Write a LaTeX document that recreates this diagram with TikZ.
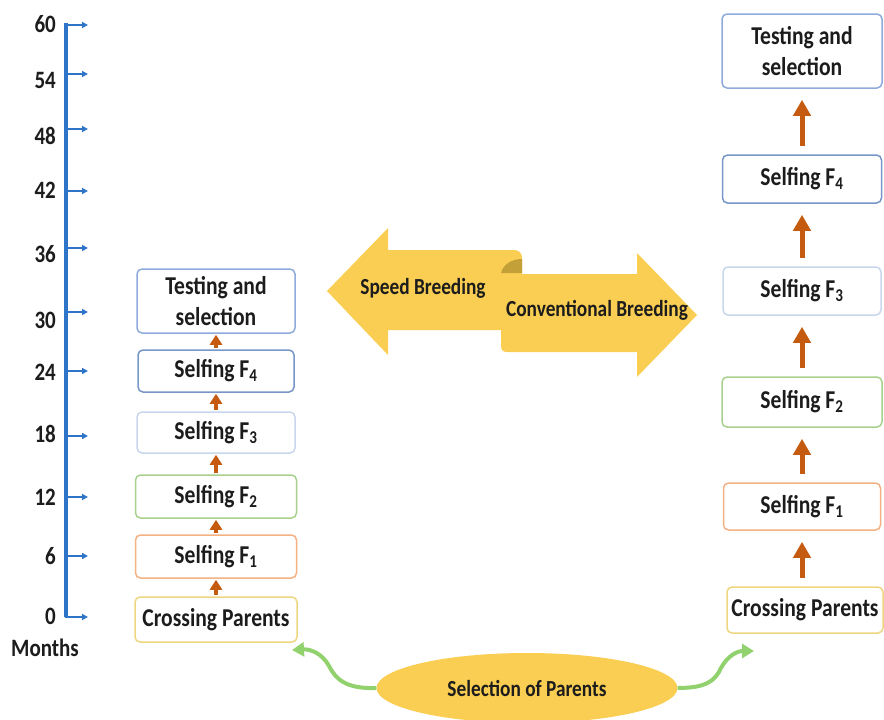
\documentclass[tikz,border=0pt]{standalone}
\usepackage{fontspec}
\setmainfont{Carlito}[FakeStretch=0.84]
\usetikzlibrary{arrows.meta,shapes.geometric}

\definecolor{axisblue}{RGB}{46,117,201}
\definecolor{txt}{RGB}{28,28,28}
\definecolor{bTest}{RGB}{143,170,220}
\definecolor{bFfour}{RGB}{120,150,200}
\definecolor{bFthree}{RGB}{200,215,238}
\definecolor{bFtwo}{RGB}{169,209,142}
\definecolor{bFone}{RGB}{244,177,131}
\definecolor{bCross}{RGB}{238,214,128}
\definecolor{stepor}{RGB}{197,90,17}
\definecolor{ribbon}{RGB}{250,206,82}
\definecolor{ribbondark}{RGB}{196,160,56}
\definecolor{leaf}{RGB}{146,210,110}

\tikzset{
  stagebox/.style={draw, rounded corners=5pt, line width=1.5pt, fill=white,
    align=center, text=txt, inner sep=0pt,
    font=\fontsize{25.7}{31}\selectfont\bfseries},
  smallup/.style={draw=stepor, line width=3.5pt,
    -{Triangle[width=12pt,length=10pt]}, shorten <=1pt, shorten >=1pt},
  bigup/.style={draw=stepor, line width=5pt,
    -{Triangle[width=17pt,length=16pt]}, shorten <=8pt, shorten >=11pt},
  tickarrow/.style={axisblue, line width=2pt, -{Triangle[width=6pt,length=6pt]}},
  axislabel/.style={anchor=east, inner sep=0pt, text=txt,
    font=\fontsize{25}{28}\selectfont\bfseries},
  ribbontext/.style={text=txt, inner sep=0pt, font=\fontsize{23}{26}\selectfont\bfseries},
  sprout/.style={draw=leaf, line width=4pt, -{Triangle[width=14pt,length=12pt]}}
}

\begin{document}
\begin{tikzpicture}[x=1pt,y=-1pt]
\useasboundingbox (0,0) rectangle (884,720);

% time axis in months
\draw[axisblue, line width=3.3pt] (66,23) -- (66,617);
\foreach \m/\ty/\ly in {60/25/24, 54/74/80, 48/129/136, 42/191/190, 36/248/254,
                        30/312/320, 24/371/372, 18/436/434, 12/497/497, 6/556/556, 0/617/616}{
  \coordinate (t\m) at (88,\ty);
  \draw[tickarrow] (65,\ty) -- (t\m);
  \node[axislabel] (lab\m) at (56,\ly) {\m};
}
\node[text=txt, inner sep=0pt, font=\fontsize{25}{28}\selectfont\bfseries] (months) at (45,648) {Months};

% speed breeding column
\node[stagebox, draw=bTest,   minimum width=158, minimum height=64] (lT) at (216,301) {Testing and\\selection};
\node[stagebox, draw=bFfour,  minimum width=156, minimum height=42] (l4) at (216,371) {Selfing F\textsubscript{4}};
\node[stagebox, draw=bFthree, minimum width=158, minimum height=41] (l3) at (216,432.5) {Selfing F\textsubscript{3}};
\node[stagebox, draw=bFtwo,   minimum width=161, minimum height=43] (l2) at (216,496.5) {Selfing F\textsubscript{2}};
\node[stagebox, draw=bFone,   minimum width=161, minimum height=43] (l1) at (216,556.5) {Selfing F\textsubscript{1}};
\node[stagebox, draw=bCross,  minimum width=162, minimum height=45] (lC) at (216,619.5) {Crossing Parents};

\draw[smallup] (lC) -- (l1);
\draw[smallup] (l1) -- (l2);
\draw[smallup] (l2) -- (l3);
\draw[smallup] (l3) -- (l4);
\draw[smallup] (l4) -- (lT);

% conventional breeding column
\node[stagebox, draw=bTest,   minimum width=160, minimum height=74] (rT) at (802,51) {Testing and\\selection};
\node[stagebox, draw=bFfour,  minimum width=159, minimum height=48] (r4) at (802,179) {Selfing F\textsubscript{4}};
\node[stagebox, draw=bFthree, minimum width=158, minimum height=48] (r3) at (802,291) {Selfing F\textsubscript{3}};
\node[stagebox, draw=bFtwo,   minimum width=160, minimum height=50] (r2) at (802,402) {Selfing F\textsubscript{2}};
\node[stagebox, draw=bFone,   minimum width=157, minimum height=47] (r1) at (802,506.5) {Selfing F\textsubscript{1}};
\node[stagebox, draw=bCross,  minimum width=156, minimum height=46] (rC) at (805,610) {Crossing Parents};

\draw[bigup] (rC.north -| r1.south) -- (r1.south);
\draw[bigup] (r1) -- (r2);
\draw[bigup] (r2) -- (r3);
\draw[bigup] (r3) -- (r4);
\draw[bigup] (r4) -- (rT);

% ribbon double arrow: left half, rolled edge, right half
\fill[ribbon] (327,291) -- (388,228) -- (388,250) -- (514,250)
  .. controls (519,250) and (522,253) .. (522,258) -- (522,330)
  -- (388,330) -- (388,355) -- cycle;
\fill[ribbondark] (501,273) .. controls (503,265) and (511,259) .. (522,259)
  -- (522,273) -- cycle;
\fill[ribbon] (501,274) -- (637,274) -- (637,253) -- (697,315) -- (637,377)
  -- (637,352) -- (507,352) .. controls (503,352) and (501,350) .. (501,346) -- cycle;
\node[ribbontext] (sb) at (423,288) {Speed Breeding};
\node[ribbontext] (cb) at (597,310) {Conventional Breeding};

% selection of parents
\node[ellipse, fill=ribbon, inner sep=0pt, minimum width=301, minimum height=70,
  text=txt, font=\fontsize{23}{26}\selectfont\bfseries] (sel) at (527,688) {Selection of Parents};
\draw[sprout] (sel.west) .. controls (347,689) and (336,680) .. (329,666)
  .. controls (322,653) and (310,649) .. (292,650);
\draw[sprout] (sel.east) .. controls (706,688) and (715,681) .. (721,668)
  .. controls (728,655) and (738,651) .. (754,651);
\end{tikzpicture}
\end{document}
